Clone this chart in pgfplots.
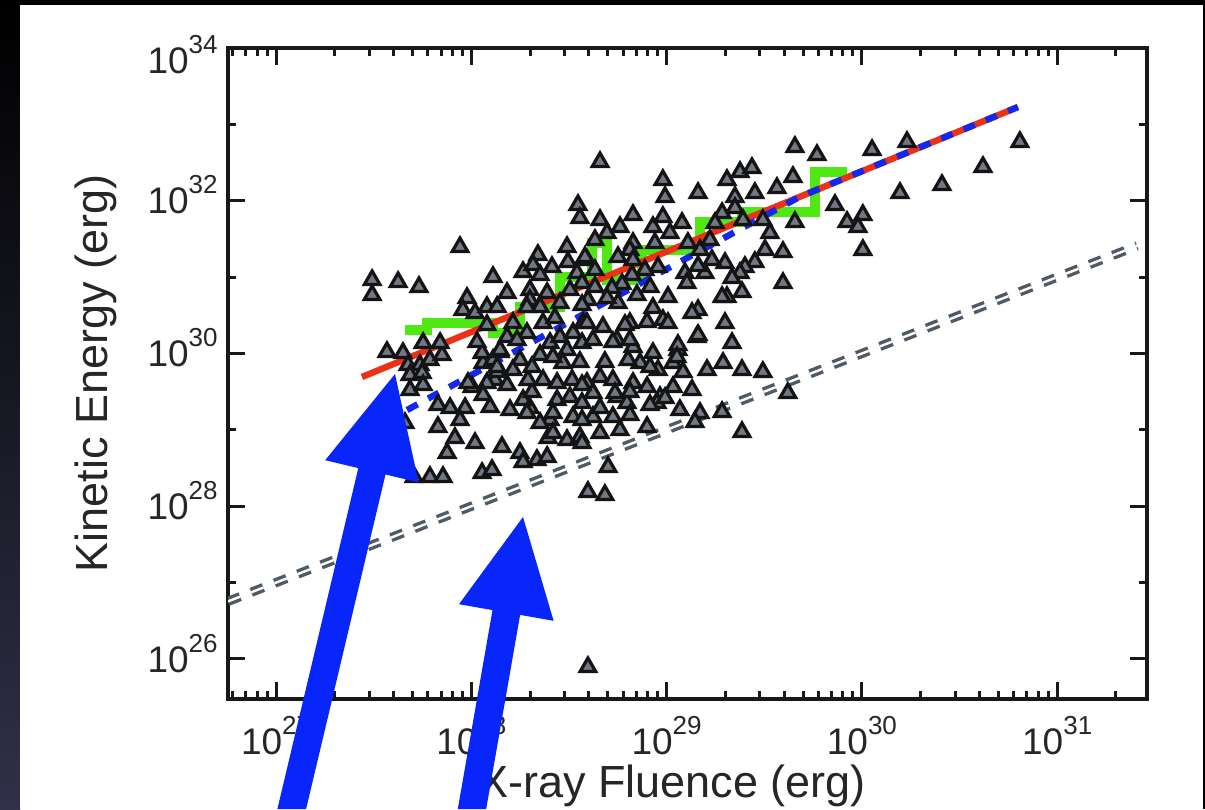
\documentclass[border=0pt]{standalone}
\usepackage{pgfplots}
\pgfplotsset{compat=1.18}
\usepackage{fontspec}
\setmainfont{Liberation Sans}
\definecolor{kred}{RGB}{235,50,25}
\definecolor{kblue}{RGB}{20,40,235}
\definecolor{kgreen}{RGB}{80,232,20}
\definecolor{kgray}{RGB}{80,90,102}
\definecolor{tri}{RGB}{112,120,132}
\definecolor{arrowblue}{RGB}{8,38,250}
\newcommand\tl[1]{10\raisebox{10pt}{\fontsize{13}{13}\selectfont #1}}

\pgfplotstableread{
x y
27.492 30.962
27.492 30.766
27.625 30.936
27.732 30.871
27.942 31.394
27.568 30.020
27.650 30.006
27.676 29.849
27.737 29.849
27.788 29.915
27.850 29.980
27.753 30.137
27.686 29.718
27.748 29.745
27.686 29.522
27.753 29.587
27.829 29.326
27.891 29.286
27.968 29.286
28.004 29.561
28.096 29.299
28.121 29.653
28.132 29.758
28.183 29.587
28.060 29.876
28.055 30.006
28.111 29.915
28.147 30.020
28.249 29.915
28.213 29.784
27.829 29.038
27.916 28.894
27.876 28.697
28.019 28.828
28.157 28.776
28.249 28.697
28.265 28.579
28.336 28.606
28.388 28.645
28.393 28.894
28.490 28.867
28.403 29.129
28.300 29.286
28.265 29.391
28.311 29.496
28.439 29.391
28.367 29.653
28.290 29.653
28.352 29.980
28.403 30.137
28.490 30.046
28.469 29.876
28.516 29.653
27.788 28.383
27.855 28.383
28.055 28.435
28.106 28.475
27.707 28.383
27.660 29.090
28.111 31.002
28.183 30.792
27.978 30.727
27.957 30.569
28.019 30.530
28.080 30.609
28.132 30.609
28.265 31.067
28.341 31.290
28.316 31.159
28.413 31.132
28.352 31.028
28.300 30.831
28.300 30.700
28.490 31.394
28.495 31.198
28.546 31.944
28.556 31.774
28.541 31.054
27.840 30.137
28.213 30.399
28.285 30.268
28.183 30.216
28.147 30.046
28.029 30.150
28.132 29.823
28.311 29.823
28.418 29.954
28.439 29.614
28.505 29.430
28.592 29.614
28.623 29.483
28.659 29.692
28.725 29.653
28.746 29.430
28.797 29.352
28.828 29.614
28.900 29.561
28.966 29.430
29.033 29.561
29.068 29.260
29.130 29.522
29.171 29.221
29.207 29.784
29.289 29.876
29.299 30.399
29.335 30.137
27.983 29.614
28.080 29.614
28.198 29.260
28.285 29.221
28.352 29.090
28.418 29.221
28.418 28.959
28.521 29.169
28.556 28.907
28.623 29.169
28.659 28.959
28.725 29.169
28.761 28.998
28.900 29.038
28.951 29.352
28.352 30.609
28.367 30.399
28.454 30.216
28.521 30.268
28.572 30.399
28.674 30.347
28.746 30.177
28.812 30.399
28.828 30.085
28.864 29.876
28.930 30.006
28.956 29.784
29.033 29.876
29.058 30.046
29.161 30.569
29.156 30.216
29.309 30.740
28.592 31.224
28.659 31.748
28.695 31.578
28.761 31.656
28.828 31.447
28.930 31.656
28.981 31.787
29.017 31.578
28.659 32.507
29.657 32.704
28.981 32.272
29.309 32.272
29.376 32.376
29.437 32.429
29.647 32.311
29.565 32.167
29.452 32.101
29.350 32.049
28.992 32.049
29.161 32.101
28.828 31.813
29.079 31.709
29.350 31.905
29.284 31.839
29.248 31.709
29.493 31.748
29.529 31.578
29.391 31.748
29.504 31.355
29.596 31.329
29.452 31.198
29.401 31.132
29.299 31.185
29.232 31.224
29.376 31.054
29.335 30.988
29.596 30.923
29.386 30.805
29.284 30.740
29.196 31.054
29.161 31.146
29.094 31.054
29.104 30.923
29.007 30.740
28.930 30.596
28.981 30.439
29.130 30.530
28.900 30.412
28.751 30.661
28.940 31.447
28.812 31.355
28.751 31.263
28.828 31.224
28.956 31.132
28.889 31.093
28.823 31.028
28.772 30.910
28.633 31.486
28.582 31.263
28.633 31.093
28.567 30.923
28.633 30.871
28.720 30.858
28.695 30.727
28.597 30.700
28.567 30.635
28.848 30.766
28.915 30.871
29.657 31.722
29.161 30.242
29.770 32.599
30.052 32.664
30.231 32.769
30.809 32.769
30.620 32.442
30.410 32.206
30.195 32.101
29.862 31.944
29.924 31.722
30.005 31.813
29.980 31.656
30.005 31.355
28.592 30.399
28.787 30.373
29.007 30.399
28.567 30.137
28.623 30.177
28.725 30.150
28.812 30.177
29.058 30.111
29.053 29.954
28.556 29.889
28.684 29.889
28.802 29.915
28.915 29.823
29.084 29.758
28.567 29.587
28.736 29.483
28.812 29.496
28.992 29.417
28.915 29.326
28.567 29.352
28.659 29.286
28.812 29.195
28.567 29.129
28.567 28.828
29.386 29.784
29.493 29.758
29.621 29.483
29.284 29.234
29.145 29.103
29.386 28.972
28.700 28.514
28.597 28.187
28.684 28.147
28.597 25.895
28.285 30.609
28.388 30.792
28.454 30.661
28.505 30.831
28.428 30.465
28.234 30.177
28.080 30.373
29.171 31.355
29.109 31.447
29.222 31.486
28.060 29.457
27.942 29.129
}\flares

\begin{document}
\begin{tikzpicture}[x=0.5pt,y=0.5pt]
\path[use as bounding box] (0,0) rectangle (1205,809);
\fill[black] (0,0) rectangle (1205,809);
\shade[top color=black, bottom color={rgb,255:red,48;green,48;blue,72}] (0,0) rectangle (20,809);
\fill[white] (20,0) rectangle (1203,804);
\begin{axis}[
  at={(114pt,55pt)}, anchor=south west,
  width=459.5pt, height=325.5pt, scale only axis,
  xmin=26.754, xmax=31.460, ymin=25.476, ymax=34,
  xtick={27,28,29,30,31},
  xticklabels={\tl{27},\tl{28},\tl{29},\tl{30},\tl{31}},
  minor xtick={26.778,26.845,26.903,26.954,
    27.301,27.477,27.602,27.699,27.778,27.845,27.903,27.954,
    28.301,28.477,28.602,28.699,28.778,28.845,28.903,28.954,
    29.301,29.477,29.602,29.699,29.778,29.845,29.903,29.954,
    30.301,30.477,30.602,30.699,30.778,30.845,30.903,30.954,
    31.301},
  ytick={26,28,30,32,34},
  yticklabels={\tl{26},\tl{28},\tl{30},\tl{32},\raisebox{-6pt}{\tl{34}}},
  minor ytick={27,29,31,33},
  tick align=inside,
  major tick length=8.5pt, minor tick length=4pt,
  tick style={line width=1.5pt, black!90},
  axis line style={line width=1.6pt, black!90},
  xticklabel style={font=\fontsize{18.5}{18.5}\selectfont, text=black!85, inner sep=0pt, anchor=north, yshift=-8.5pt},
  yticklabel style={font=\fontsize{18.5}{18.5}\selectfont, text=black!85, inner sep=0pt, anchor=base east, xshift=-5pt, yshift=-6.6pt},
  xlabel={X-ray Fluence (erg)},
  ylabel={Kinetic Energy (erg)},
  label style={font=\fontsize{22.5}{22.5}\selectfont, text=black!85, inner sep=0pt},
  xlabel style={at={(axis description cs:0.483,-0.1336)}, anchor=center},
  ylabel style={at={(axis description cs:-0.1436,0.5)}, anchor=center},
  clip=true,
]
% equality line (double dashed)
\addplot[kgray, line width=4.6pt, dash pattern=on 6.5pt off 6pt] coordinates {(26.754,26.754) (31.409,31.409)};
\addplot[white, line width=1.2pt, dash pattern=on 6.5pt off 6pt] coordinates {(26.754,26.754) (31.409,31.409)};
% events
\addplot[only marks, mark=triangle*, mark size=4.5pt,
  mark options={fill=tri, draw=black!92, line width=1.6pt}] table {\flares};
% binned values
\addplot[kgreen, line width=5.2pt, const plot mark left] coordinates {
(27.661,30.308) (27.773,30.399) (28.111,30.268) (28.249,30.609) (28.454,31.002)
(28.618,31.447) (28.695,30.962) (28.874,31.355) (29.171,31.722) (29.386,31.853)
(29.760,32.376) (29.924,32.376)};
% fits
\addplot[kred, line width=3.2pt] coordinates {(27.440,29.692) (30.799,33.227)};
\addplot[kblue, line width=3.2pt, dash pattern=on 6pt off 6pt] coordinates {(27.671,29.260) (29.683,32.053) (30.799,33.227)};
\end{axis}
% annotation arrows
\fill[arrowblue] (277.4,0) -- (358.3,340.9) -- (325.2,348.8) -- (395,435) -- (418.6,326.6) -- (385.5,334.5) -- (306.1,0) -- cycle;
\fill[arrowblue] (457.8,0) -- (492.5,198.9) -- (459.0,204.8) -- (523,292) -- (553.6,188.2) -- (520.1,194.1) -- (486.2,0) -- cycle;
\end{tikzpicture}
\end{document}
